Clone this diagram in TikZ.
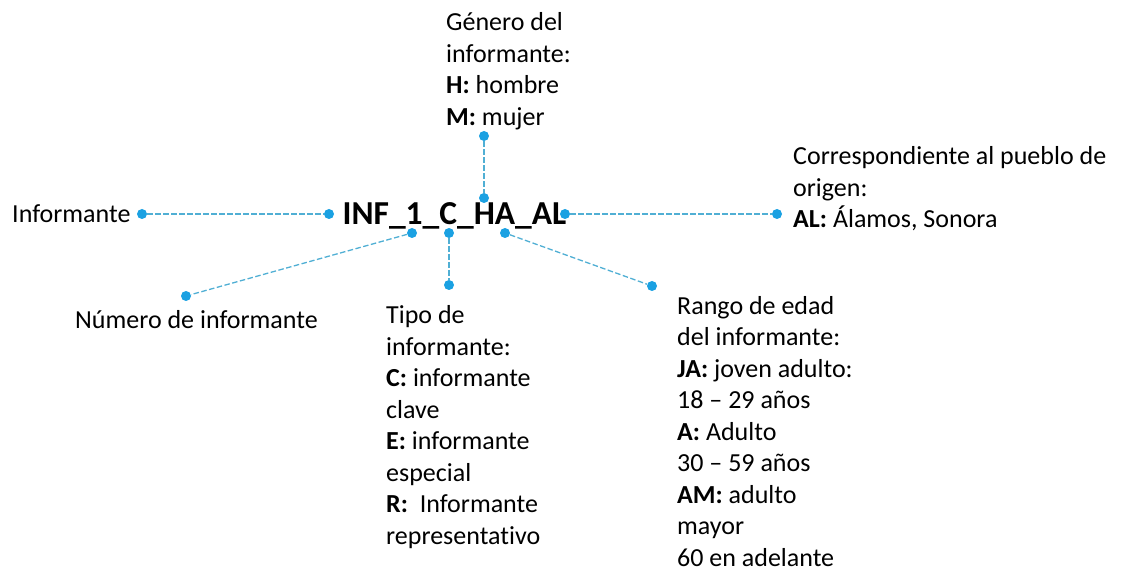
\documentclass[tikz,border=0pt]{standalone}
\usepackage{fontspec}
\setmainfont{Carlito}[Ligatures=NoCommon]
\definecolor{dotblue}{RGB}{27,161,226}
\definecolor{linecol}{RGB}{80,175,212}
\begin{document}
\begin{tikzpicture}[x=1pt,y=-1pt,
 dot/.style={circle,fill=dotblue,inner sep=0,minimum size=10pt},
 conn/.style={draw=linecol,line width=1.3pt,dash pattern=on 5.5pt off 2.5pt},
 lbl/.style={inner sep=0,anchor=north west,align=left,font=\fontsize{26}{31.5}\selectfont},
 one/.style={inner sep=0,anchor=base west,font=\fontsize{26}{31.5}\selectfont},
 ]
\useasboundingbox (0,0) rectangle (1133,569);
\node[inner sep=0,anchor=base,font=\bfseries\fontsize{33.5}{40}\selectfont] (code) at (454.5,225) {INF\_1\_C\_HA\_AL};

\node[one] (inf) at (12,222.4) {Informante};
\node[one] (num) at (75,328.4) {Número de informante};
\node[lbl] (gen) at (446,8.4) {\strut Género del\\informante:\\\textbf{H:} hombre\\\textbf{M:} mujer};
\node[lbl] (tipo) at (386,301.4) {\strut Tipo de\\informante:\\\textbf{C:} informante\\clave\\\textbf{E:} informante\\especial\\\textbf{R:}\ \ Informante\\representativo};
\node[lbl] (rango) at (677,292) {\strut Rango de edad\\del informante:\\\textbf{JA:} joven adulto:\\18 – 29 años\\\textbf{A:} Adulto\\30 – 59 años\\\textbf{AM:} adulto\\mayor\\60 en adelante};
\node[lbl] (orig) at (793,142.4) {\strut Correspondiente al pueblo de\\origen:\\\textbf{AL:} Álamos, Sonora};

\node[dot] (d1) at (142,214) {};
\node[dot] (d2) at (329,214) {};
\node[dot] (g1) at (484,136) {};
\node[dot] (g2) at (484,198) {};
\node[dot] (a1) at (565,214) {};
\node[dot] (a2) at (777,214) {};
\node[dot] (n1) at (412,233) {};
\node[dot] (n2) at (186,296) {};
\node[dot] (t1) at (449,233) {};
\node[dot] (t2) at (449,285) {};
\node[dot] (r1) at (505,233) {};
\node[dot] (r2) at (652,286) {};

\draw[conn] (d1) -- (d2);
\draw[conn] (g1) -- (g2);
\draw[conn] (a1) -- (a2);
\draw[conn] (n1) -- (n2);
\draw[conn] (t1) -- (t2);
\draw[conn] (r1) -- (r2);
\end{tikzpicture}
\end{document}
